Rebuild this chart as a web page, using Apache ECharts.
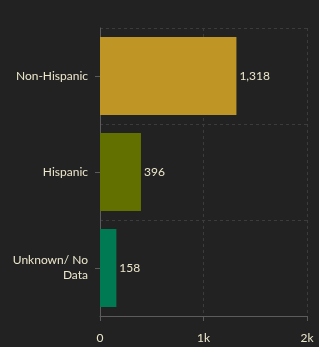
<!DOCTYPE html>
<html>
<head>
<meta charset="utf-8">
<script src="https://cdn.jsdelivr.net/npm/echarts@6/dist/echarts.min.js"></script>
<style>
  html, body { margin: 0; padding: 0; background: #222222; }
  #chart { width: 319px; height: 347px; }
</style>
</head>
<body>
<div id="chart"></div>
<script>
// categories and values
const categories = ['Non-Hispanic', 'Hispanic', 'Unknown/ No Data'];
const counts = [1318, 396, 158];
const barColors = ['#bf9626', '#627000', '#007a52'];
const xTicks = [0, 1000, 2000];

const textColor = '#ece6cc';
const fontName = 'Lato';

const myChart = echarts.init(document.getElementById('chart'), null, { renderer: 'canvas' });

myChart.setOption({
  backgroundColor: '#222222',
  animation: false,
  grid: { left: 100, right: 12, top: 28, bottom: 31 },
  xAxis: {
    type: 'value',
    min: xTicks[0],
    max: xTicks[xTicks.length - 1],
    interval: 1000,
    axisLine: { show: true, lineStyle: { color: '#5c5c5c' } },
    axisTick: { show: true, length: 5, lineStyle: { color: '#5c5c5c' } },
    axisLabel: {
      color: textColor,
      fontSize: 12,
      fontFamily: fontName,
      margin: 16,
      formatter: v => v === 0 ? '0' : (v / 1000) + 'k'
    },
    splitLine: { show: true, lineStyle: { color: '#3c3c3c', type: [3, 3] } }
  },
  yAxis: {
    type: 'category',
    data: categories,
    inverse: true,
    axisLine: { show: true, lineStyle: { color: '#5c5c5c' } },
    axisTick: { show: true, alignWithLabel: true, length: 5, lineStyle: { color: '#5c5c5c' } },
    axisLabel: {
      color: textColor,
      fontSize: 12,
      fontFamily: fontName,
      margin: 12,
      width: 78,
      overflow: 'break',
      lineHeight: 15,
      align: 'right'
    },
    splitLine: { show: true, lineStyle: { color: '#3c3c3c', type: [3, 3] } }
  },
  series: [{
    type: 'bar',
    barWidth: '81%',
    data: counts.map((v, i) => ({ value: v, itemStyle: { color: barColors[i] } })),
    label: {
      show: true,
      position: 'right',
      distance: 3,
      color: textColor,
      fontSize: 12,
      fontFamily: fontName,
      formatter: p => p.value.toLocaleString('en-US')
    }
  }]
});
</script>
</body>
</html>
